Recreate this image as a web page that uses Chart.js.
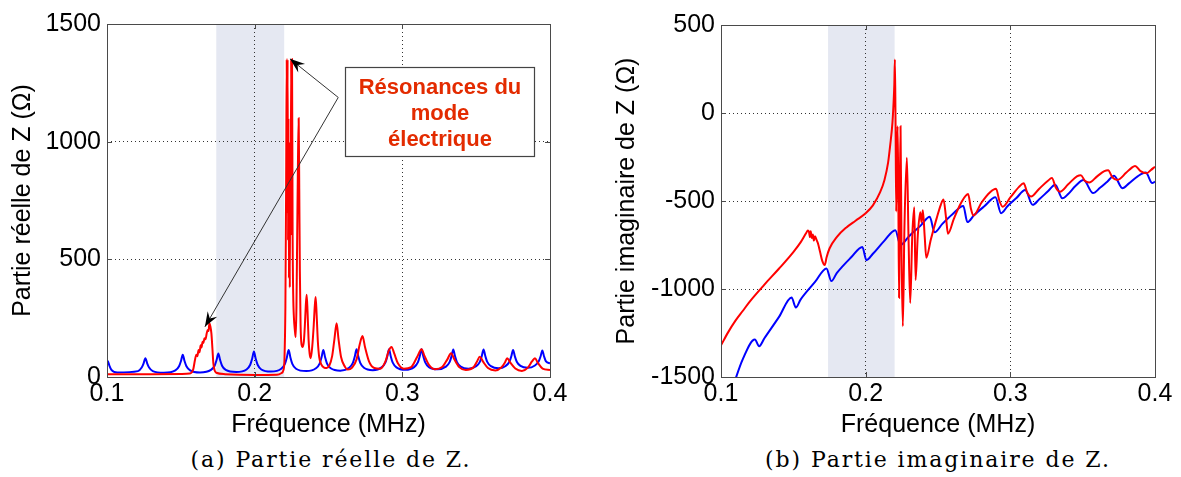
<!DOCTYPE html>
<html>
<head>
<meta charset="utf-8">
<script src="https://cdn.jsdelivr.net/npm/chart.js@4.4.1/dist/chart.umd.min.js"></script>
<style>
  body { margin: 0; background: #fff; width: 1181px; height: 477px; position: relative; overflow: hidden; }
  canvas { position: absolute; top: 0; }
  #re { left: 0; }
  #im { left: 590px; }
  .caption { position: absolute; top: 447px; font-family: 'DejaVu Serif', 'Liberation Serif', serif; font-size: 22px; letter-spacing: 1.9px; color: #000; white-space: nowrap; transform: translateX(-50%); }
</style>
</head>
<body>
<canvas id="re" width="575" height="440"></canvas>
<canvas id="im" width="591" height="440"></canvas>
<div class="caption" style="left:331px">(a) Partie réelle de Z.</div>
<div class="caption" style="left:938px">(b) Partie imaginaire de Z.</div>
<script>
"use strict";

// tick values
const xTicks = [0.1, 0.2, 0.3, 0.4];
const reTicks = [0, 500, 1000, 1500];
const imTicks = [-1500, -1000, -500, 0, 500];

// shaded frequency band (MHz)
const bandFrom = 0.174;
const bandTo = 0.220;

// real part, blue curve
const reFreqBlue = [0.1000, 0.1005, 0.1015, 0.1030, 0.1070,
  0.1210, 0.1235, 0.1248, 0.1260, 0.1272, 0.1285, 0.1310, 0.1385,
  0.1463, 0.1488, 0.1501, 0.1513, 0.1525, 0.1538, 0.1563, 0.1630,
  0.1704, 0.1729, 0.1742, 0.1754, 0.1766, 0.1779, 0.1804, 0.1875,
  0.1945, 0.1970, 0.1983, 0.1995, 0.2007, 0.2020, 0.2045, 0.2110,
  0.2180, 0.2205, 0.2218, 0.2230, 0.2242, 0.2255, 0.2280, 0.2350,
  0.2415, 0.2440, 0.2453, 0.2465, 0.2477, 0.2490, 0.2515, 0.2580,
  0.2640, 0.2665, 0.2678, 0.2690, 0.2702, 0.2715, 0.2740, 0.2800,
  0.2860, 0.2885, 0.2898, 0.2910, 0.2922, 0.2935, 0.2960, 0.3020,
  0.3080, 0.3105, 0.3118, 0.3130, 0.3142, 0.3155, 0.3180, 0.3238,
  0.3295, 0.3320, 0.3333, 0.3345, 0.3357, 0.3370, 0.3395, 0.3448,
  0.3500, 0.3525, 0.3538, 0.3550, 0.3562, 0.3575, 0.3600, 0.3650,
  0.3700, 0.3725, 0.3738, 0.3750, 0.3762, 0.3775, 0.3800, 0.3849,
  0.3898, 0.3923, 0.3936, 0.3948, 0.3960, 0.3973, 0.4000];
const reBlue = [55, 68, 50, 30, 19,
  25, 40, 58, 80, 58, 40, 25, 18,
  28, 46, 68, 95, 68, 46, 28, 19,
  30, 48, 72, 100, 72, 48, 30, 21,
  32, 52, 78, 108, 78, 52, 32, 23,
  35, 56, 83, 115, 83, 56, 35, 25,
  37, 57, 84, 115, 84, 57, 37, 27,
  39, 60, 87, 118, 87, 60, 39, 29,
  41, 61, 87, 118, 87, 61, 41, 31,
  42, 62, 88, 118, 88, 62, 42, 33,
  44, 63, 88, 117, 88, 63, 44, 35,
  46, 64, 89, 117, 89, 64, 46, 37,
  47, 65, 88, 115, 88, 65, 47, 39,
  49, 66, 87, 113, 87, 66, 58];

// real part, red curve
const reFreqRed = [0.1000, 0.1300, 0.1500, 0.1560, 0.1575, 0.1585, 0.1595, 0.1605, 0.1612,
  0.1620, 0.1627, 0.1634, 0.1640, 0.1647, 0.1653, 0.1660, 0.1667, 0.1675, 0.1682, 0.1688,
  0.1693, 0.1700, 0.1707, 0.1714, 0.1720, 0.1728, 0.1740, 0.1800, 0.2000, 0.2150, 0.2180,
  0.2195, 0.2202, 0.2208, 0.2213, 0.2217, 0.2220, 0.2223, 0.2226, 0.2229, 0.2232, 0.2235,
  0.2238, 0.2241, 0.2244, 0.2247, 0.2250, 0.2253, 0.2257, 0.2261, 0.2266, 0.2272, 0.2278,
  0.2283, 0.2288, 0.2293, 0.2298, 0.2302, 0.2306, 0.2311, 0.2317, 0.2325, 0.2333, 0.2340,
  0.2346, 0.2352, 0.2358, 0.2365, 0.2372, 0.2380, 0.2390, 0.2400, 0.2407, 0.2413, 0.2420,
  0.2428, 0.2437, 0.2450, 0.2470, 0.2487, 0.2505, 0.2525, 0.2540, 0.2555, 0.2568, 0.2585,
  0.2610, 0.2630, 0.2660, 0.2690, 0.2712, 0.2730, 0.2748, 0.2775, 0.2810, 0.2850, 0.2885,
  0.2908, 0.2927, 0.2945, 0.2970, 0.3010, 0.3060, 0.3100, 0.3130, 0.3150, 0.3180, 0.3220,
  0.3270, 0.3305, 0.3330, 0.3352, 0.3385, 0.3430, 0.3480, 0.3505, 0.3525, 0.3548, 0.3580,
  0.3630, 0.3670, 0.3695, 0.3710, 0.3730, 0.3765, 0.3810, 0.3850, 0.3878, 0.3898, 0.3918,
  0.3950, 0.4000];
const reRed = [12, 12, 13, 15, 20, 35, 70, 95, 88,
  115, 105, 135, 125, 150, 145, 165, 160, 185, 200, 195,
  228, 215, 185, 120, 60, 30, 18, 12, 9, 10, 16,
  30, 80, 300, 800, 1350, 700, 1350, 580, 1100, 420, 900,
  380, 1000, 600, 1350, 800, 1350, 600, 350, 250, 200, 170,
  300, 600, 900, 1100, 800, 450, 220, 140, 128, 150, 220,
  300, 350, 280, 160, 100, 80, 130, 220, 300, 340, 260,
  150, 85, 55, 40, 38, 48, 90, 160, 228, 160, 85,
  45, 32, 40, 75, 140, 174, 125, 65, 38, 35, 65,
  112, 128, 100, 58, 35, 42, 85, 118, 90, 52, 33,
  42, 75, 101, 75, 42, 30, 40, 65, 86, 64, 38,
  28, 40, 62, 80, 62, 36, 26, 40, 66, 80, 60,
  36, 30];

// imaginary part, blue curve
const imFreqBlue = [0.1080, 0.1150, 0.1234, 0.1264, 0.1300, 0.1400, 0.1488, 0.1517, 0.1550,
  0.1650, 0.1729, 0.1763, 0.1800, 0.1900, 0.1977, 0.2005, 0.2050, 0.2130, 0.2205, 0.2240,
  0.2300, 0.2380, 0.2443, 0.2476, 0.2530, 0.2600, 0.2675, 0.2703, 0.2750, 0.2820, 0.2897,
  0.2936, 0.2980, 0.3040, 0.3103, 0.3154, 0.3200, 0.3260, 0.3310, 0.3360, 0.3400, 0.3450,
  0.3506, 0.3572, 0.3620, 0.3670, 0.3717, 0.3775, 0.3820, 0.3880, 0.3936, 0.3981, 0.4000];
const imBlue = [-1560, -1400, -1287, -1325, -1280, -1160, -1048, -1105, -1060,
  -960, -883, -955, -910, -820, -761, -836, -800, -725, -666, -750,
  -700, -640, -590, -678, -630, -575, -528, -620, -580, -530, -479,
  -569, -530, -485, -438, -522, -490, -445, -408, -485, -460, -415,
  -381, -455, -425, -390, -357, -427, -400, -360, -338, -398, -390];

// imaginary part, red curve
const imFreqRed = [0.1000, 0.1050, 0.1100, 0.1150, 0.1200, 0.1300, 0.1400, 0.1500, 0.1550,
  0.1590, 0.1600, 0.1608, 0.1615, 0.1620, 0.1628, 0.1635, 0.1642, 0.1650, 0.1660, 0.1670,
  0.1685, 0.1700, 0.1717, 0.1730, 0.1750, 0.1800, 0.1867, 0.1930, 0.2000, 0.2050, 0.2100,
  0.2130, 0.2155, 0.2170, 0.2185, 0.2193, 0.2198, 0.2202, 0.2206, 0.2211, 0.2216, 0.2221,
  0.2226, 0.2231, 0.2236, 0.2241, 0.2248, 0.2257, 0.2268, 0.2285, 0.2296, 0.2308, 0.2322,
  0.2336, 0.2345, 0.2360, 0.2377, 0.2386, 0.2395, 0.2408, 0.2419, 0.2450, 0.2490, 0.2520,
  0.2538, 0.2555, 0.2569, 0.2610, 0.2660, 0.2708, 0.2728, 0.2745, 0.2800, 0.2860, 0.2901,
  0.2925, 0.2947, 0.3000, 0.3060, 0.3092, 0.3118, 0.3143, 0.3200, 0.3260, 0.3287, 0.3315,
  0.3343, 0.3400, 0.3460, 0.3488, 0.3515, 0.3545, 0.3600, 0.3650, 0.3676, 0.3705, 0.3740,
  0.3800, 0.3840, 0.3862, 0.3900, 0.3943, 0.3970, 0.4000];
const imRed = [-1320, -1245, -1180, -1125, -1070, -975, -885, -790, -735,
  -680, -668, -675, -705, -672, -710, -690, -725, -700, -720, -740,
  -790, -840, -864, -820, -770, -705, -650, -612, -570, -525, -450,
  -380, -282, -180, -56, 60, 160, 304, 0, -560, -250, -75,
  -500, -1050, -500, -75, -800, -1212, -650, -254, -700, -1080, -700,
  -535, -949, -700, -564, -620, -552, -700, -823, -720, -600, -520,
  -492, -590, -686, -600, -510, -460, -545, -583, -510, -450, -430,
  -500, -532, -480, -420, -399, -455, -475, -430, -385, -370, -425,
  -447, -405, -360, -353, -385, -395, -360, -330, -325, -365, -380,
  -340, -310, -301, -330, -342, -325, -305];

// annotation anchors, in data coordinates of the left chart
const arrowFrom = [0.2566, 1188];
const arrowTips = [[0.2239, 1352], [0.1663, 213]];
const noteBox = [0.2613, 1319, 0.3893, 941];
const noteLines = ['Résonances du', 'mode', 'électrique'];

Chart.defaults.font.family = "'Liberation Sans', Arial, Helvetica, sans-serif";
Chart.defaults.color = '#000';

function toPoints(xs, ys) {
  return xs.map((x, i) => ({ x: x, y: ys[i] }));
}

/**
 * Shaded band behind the grid, plus the MATLAB style box and inward ticks.
 */
const framePlugin = {
  id: 'frame',
  beforeDraw(chart) {
    const { ctx, chartArea: a, scales } = chart;
    const x1 = scales.x.getPixelForValue(bandFrom);
    const x2 = scales.x.getPixelForValue(bandTo);
    ctx.save();
    ctx.fillStyle = '#e5e8f2';
    ctx.fillRect(x1, a.top, x2 - x1, a.bottom - a.top);
    ctx.restore();
  },
  afterDraw(chart) {
    const { ctx, chartArea: a, scales } = chart;
    ctx.save();
    ctx.strokeStyle = '#4a4a4a';
    ctx.lineWidth = 1;
    ctx.beginPath();
    scales.x.ticks.forEach(t => {
      const px = Math.round(scales.x.getPixelForValue(t.value)) + 0.5;
      ctx.moveTo(px, a.bottom); ctx.lineTo(px, a.bottom - 5);
      ctx.moveTo(px, a.top); ctx.lineTo(px, a.top + 5);
    });
    scales.y.ticks.forEach(t => {
      const py = Math.round(scales.y.getPixelForValue(t.value)) + 0.5;
      ctx.moveTo(a.left, py); ctx.lineTo(a.left + 5, py);
      ctx.moveTo(a.right, py); ctx.lineTo(a.right - 5, py);
    });
    ctx.stroke();
    ctx.strokeRect(Math.round(a.left) + 0.5, Math.round(a.top) + 0.5,
      Math.round(a.right - a.left), Math.round(a.bottom - a.top));
    ctx.restore();
  }
};

function drawArrow(ctx, x0, y0, x1, y1) {
  const ang = Math.atan2(y1 - y0, x1 - x0);
  ctx.strokeStyle = '#333';
  ctx.lineWidth = 1;
  ctx.beginPath();
  ctx.moveTo(x0, y0);
  ctx.lineTo(x1, y1);
  ctx.stroke();
  const len = 15, half = 5.5;
  const bx = x1 - len * Math.cos(ang), by = y1 - len * Math.sin(ang);
  const nx = -Math.sin(ang), ny = Math.cos(ang);
  const mx = x1 - len * 0.65 * Math.cos(ang), my = y1 - len * 0.65 * Math.sin(ang);
  ctx.fillStyle = '#000';
  ctx.beginPath();
  ctx.moveTo(x1, y1);
  ctx.lineTo(bx + nx * half, by + ny * half);
  ctx.lineTo(mx, my);
  ctx.lineTo(bx - nx * half, by - ny * half);
  ctx.closePath();
  ctx.fill();
}

/**
 * Text box with the two arrows pointing at the resonances.
 */
const notePlugin = {
  id: 'note',
  afterDraw(chart) {
    const { ctx, scales: { x, y } } = chart;
    const x0 = x.getPixelForValue(arrowFrom[0]);
    const y0 = y.getPixelForValue(arrowFrom[1]);
    ctx.save();
    arrowTips.forEach(t => drawArrow(ctx, x0, y0, x.getPixelForValue(t[0]), y.getPixelForValue(t[1])));

    const bl = Math.round(x.getPixelForValue(noteBox[0])) + 0.5;
    const bt = Math.round(y.getPixelForValue(noteBox[1])) + 0.5;
    const br = Math.round(x.getPixelForValue(noteBox[2])) + 0.5;
    const bb = Math.round(y.getPixelForValue(noteBox[3])) + 0.5;
    ctx.fillStyle = '#fff';
    ctx.fillRect(bl, bt, br - bl, bb - bt);
    ctx.strokeStyle = '#444';
    ctx.lineWidth = 1.2;
    ctx.strokeRect(bl, bt, br - bl, bb - bt);

    ctx.fillStyle = '#e32b00';
    ctx.font = "bold 22px 'Liberation Sans', Arial, sans-serif";
    ctx.textAlign = 'center';
    ctx.textBaseline = 'middle';
    const cx = (bl + br) / 2;
    noteLines.forEach((line, i) => ctx.fillText(line, cx, bt + 20 + i * 26));
    ctx.restore();
  }
};

function makeChart(id, cfg) {
  const axisFont = { size: 25 };
  return new Chart(document.getElementById(id), {
    type: 'line',
    data: {
      datasets: [
        { data: toPoints(cfg.redF, cfg.red), borderColor: '#ff0000', borderWidth: 2 },
        { data: toPoints(cfg.blueF, cfg.blue), borderColor: '#0000ff', borderWidth: 2 }
      ]
    },
    options: {
      responsive: false,
      animation: false,
      devicePixelRatio: 1,
      layout: { padding: { top: cfg.top, right: cfg.right, left: 0, bottom: 0 } },
      elements: { point: { radius: 0 }, line: { cubicInterpolationMode: 'monotone' } },
      plugins: { legend: { display: false }, tooltip: { enabled: false } },
      scales: {
        x: {
          type: 'linear',
          min: 0.1,
          max: 0.4,
          afterBuildTicks: s => { s.ticks = xTicks.map(v => ({ value: v })); },
          afterFit: s => { s.height = 63; },
          ticks: { font: axisFont, padding: 2, maxRotation: 0, callback: v => v.toFixed(1) },
          grid: { color: '#333', lineWidth: 1, drawTicks: false },
          border: { display: false, dash: [1, 3] },
          title: { display: true, text: 'Fréquence (MHz)', font: axisFont, padding: { top: 0, bottom: 0 } }
        },
        y: {
          min: cfg.yTicks[0],
          max: cfg.yTicks[cfg.yTicks.length - 1],
          afterBuildTicks: s => { s.ticks = cfg.yTicks.map(v => ({ value: v })); },
          afterFit: s => { s.width = cfg.yWidth; },
          ticks: { font: axisFont, padding: 6, callback: v => String(v) },
          grid: { color: '#333', lineWidth: 1, drawTicks: false },
          border: { display: false, dash: [1, 3] },
          title: { display: true, text: cfg.yTitle, font: axisFont, padding: { top: cfg.titlePad, bottom: 0 } }
        }
      }
    },
    plugins: cfg.plugins
  });
}

makeChart('re', {
  redF: reFreqRed, red: reRed, blueF: reFreqBlue, blue: reBlue,
  yTicks: reTicks, yWidth: 107, top: 24, right: 25, titlePad: 8,
  yTitle: 'Partie réelle de Z (Ω)',
  plugins: [framePlugin, notePlugin]
});

makeChart('im', {
  redF: imFreqRed, red: imRed, blueF: imFreqBlue, blue: imBlue,
  yTicks: imTicks, yWidth: 131, top: 25, right: 26, titlePad: 22,
  yTitle: 'Partie imaginaire de Z (Ω)',
  plugins: [framePlugin]
});
</script>
</body>
</html>
